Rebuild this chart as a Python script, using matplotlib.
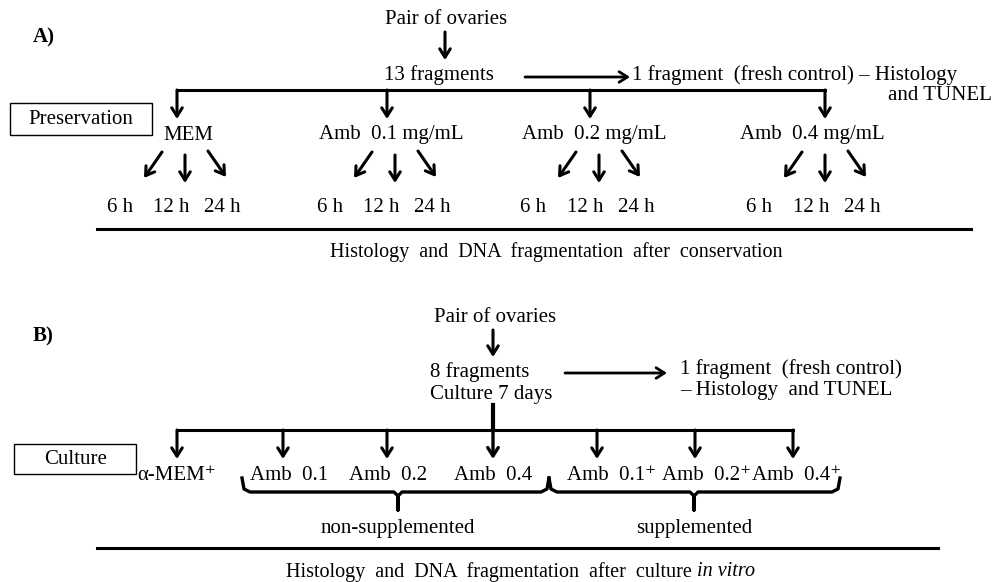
import matplotlib.pyplot as plt

plt.rcParams['font.family'] = ['Liberation Serif', 'DejaVu Serif']

# ---- panel A: preservation ----
a_groups = ['MEM', 'Amb  0.1 mg/mL', 'Amb  0.2 mg/mL', 'Amb  0.4 mg/mL']
a_times = ['6 h', '12 h', '24 h']
a_top = ['Pair of ovaries', '13 fragments']
a_control = ['1 fragment  (fresh control) – Histology', 'and TUNEL']
a_footer = 'Histology  and  DNA  fragmentation  after  conservation'

# ---- panel B: culture ----
b_groups = ['α-MEM⁺', 'Amb  0.1', 'Amb  0.2', 'Amb  0.4',
            'Amb  0.1⁺', 'Amb  0.2⁺', 'Amb  0.4⁺']
b_top = ['Pair of ovaries', '8 fragments', 'Culture 7 days']
b_control = ['1 fragment  (fresh control)', '– Histology  and TUNEL']
b_braces = ['non-supplemented', 'supplemented']
b_footer = ['Histology  and  DNA  fragmentation  after  culture ', 'in vitro']

# layout (pixel coordinates)
a_drop_x = [177, 387, 590, 825]
a_label_x = [188, 391, 594, 812]
a_time_x = [[120, 171, 222], [330, 381, 432], [533, 585, 636], [759, 811, 862]]
b_drop_x = [177, 283, 387, 493, 597, 695, 793]
b_label_x = [177, 289, 388, 493, 612, 707, 797]

FS = 15
DY = 3  # text sits a little lower than its nominal centre

fig = plt.figure(figsize=(9.95, 5.82), dpi=100)
ax = fig.add_axes([0, 0, 1, 1])
ax.set_xlim(0, 995)
ax.set_ylim(582, 0)
ax.axis('off')


def arrow(x0, y0, x1, y1, lw=2.2):
    ax.annotate('', xy=(x1, y1), xytext=(x0, y0),
                arrowprops=dict(arrowstyle='->,head_length=0.6,head_width=0.38',
                                lw=lw, color='black', shrinkA=0, shrinkB=0))


def txt(x, y, s, ha='center', **kw):
    return ax.text(x, y + DY, s, ha=ha, va='center', fontsize=kw.pop('fs', FS),
                   color='black', **kw)


# ================= A =================
txt(33, 34, 'A)', ha='left', fontweight='bold', fs=15)
txt(446, 17, a_top[0])
arrow(445, 32, 445, 60)
txt(439, 72, a_top[1])
arrow(525, 77, 630, 77, lw=2)
txt(632, 72, a_control[0], ha='left')
txt(992, 93, a_control[1], ha='right')

ax.plot([a_drop_x[0], a_drop_x[-1]], [90, 90], color='black', lw=2.2, solid_capstyle='projecting')
for x in a_drop_x:
    arrow(x, 90, x, 119)

ax.add_patch(plt.Rectangle((10, 103), 142, 32, fill=False, lw=1, ec='black'))
txt(81, 117, 'Preservation')

for lx, label, tx in zip(a_label_x, a_groups, a_time_x):
    txt(lx, 132, label)
    cx = tx[1] + 14
    arrow(cx - 23, 152, cx - 41, 178)
    arrow(cx, 155, cx, 183)
    arrow(cx + 23, 151, cx + 41, 177)
    for x, t in zip(tx, a_times):
        txt(x, 204, t)

ax.plot([97, 971], [229, 229], color='black', lw=2.2)
txt(556, 249, a_footer, fs=14.5)

# ================= B =================
txt(33, 333, 'B)', ha='left', fontweight='bold', fs=15)
txt(495, 314, b_top[0])
arrow(493, 330, 493, 357)
txt(430, 369, b_top[1], ha='left')
txt(430, 391, b_top[2], ha='left')
arrow(565, 373, 667, 373, lw=2)
txt(680, 366, b_control[0], ha='left')
txt(680, 388, b_control[1], ha='left')

ax.plot([493, 493], [405, 430], color='black', lw=3)
ax.plot([b_drop_x[0], b_drop_x[-1]], [430, 430], color='black', lw=2.2, solid_capstyle='projecting')
for x in b_drop_x:
    arrow(x, 430, x, 459, lw=2.4 if x == 493 else 2.2)

ax.add_patch(plt.Rectangle((14, 444), 122, 30, fill=False, lw=1, ec='black'))
txt(76, 457, 'Culture')

for lx, label in zip(b_label_x, b_groups):
    txt(lx, 472, label)

# curly braces under the groups
brace_spans = [(242, 549), (549, 840)]
brace_x = [398, 694]
for (x0, x1), bx, label in zip(brace_spans, brace_x, b_braces):
    ax.plot([x0, x0 + 2, x0 + 8, bx - 4, bx, bx, bx, bx + 4, x1 - 8, x1 - 2, x1],
            [478, 489, 492, 492, 496, 510, 496, 492, 492, 489, 478],
            color='black', lw=2.4, solid_joinstyle='round')
    txt(bx, 525, label)

ax.plot([97, 938], [548, 548], color='black', lw=2.2)

# footer of B: upright part followed by italic "in vitro", centred together
r = fig.canvas.get_renderer()
t1 = txt(0, 569, b_footer[0], ha='left', fs=14.5)
t2 = txt(0, 569, b_footer[1], ha='left', fs=14.5, fontstyle='italic')
w1 = t1.get_window_extent(r).width
w2 = t2.get_window_extent(r).width
x_start = 521 - (w1 + w2) / 2
t1.set_x(x_start)
t2.set_x(x_start + w1)

fig.savefig('out.png', dpi=100)
